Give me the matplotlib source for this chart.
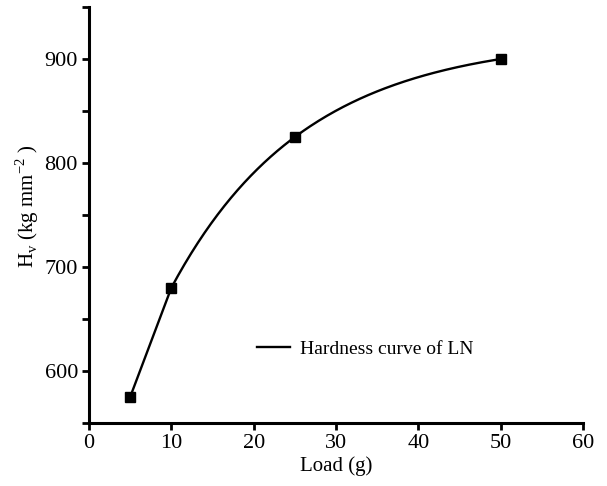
import numpy as np
from matplotlib import pyplot as plt
from matplotlib.ticker import MultipleLocator

# Hardness data
load = [5, 10, 25, 50]
hardness = [575, 680, 825, 900]

plt.rcParams['font.family'] = ['Liberation Serif', 'DejaVu Serif']
plt.rcParams['mathtext.fontset'] = 'custom'
plt.rcParams['mathtext.rm'] = 'Liberation Serif'

fig = plt.figure(figsize=(6.07, 4.86), dpi=100)
ax = fig.add_axes([0.1466, 0.1296, 0.814, 0.856])

# straight segment for the first two points, then a smooth saturating
# curve y = A - B*exp(-x/c) passing through the remaining three points
x1, x2, x3 = load[1:]
y1, y2, y3 = hardness[1:]
target = (y3 - y2) / (y2 - y1)
lo, hi = 1.0, 200.0
for _ in range(100):
    c = 0.5 * (lo + hi)
    e1, e2, e3 = np.exp(-x1 / c), np.exp(-x2 / c), np.exp(-x3 / c)
    if (e2 - e3) / (e1 - e2) > target:
        hi = c
    else:
        lo = c
B = (y2 - y1) / (e1 - e2)
A = y3 + B * e3
xs = np.linspace(x1, x3, 200)
curve_x = np.concatenate([[load[0]], xs])
curve_y = np.concatenate([[hardness[0]], A - B * np.exp(-xs / c)])

ax.plot(curve_x, curve_y, c='black', lw=1.7, label='Hardness curve of LN')
ax.plot(load, hardness, ls='none', marker='s', ms=6.5, c='black')

ax.set_xlim(0, 60)
ax.set_ylim(550, 950)
ax.xaxis.set_major_locator(MultipleLocator(10))
ax.yaxis.set_minor_locator(MultipleLocator(50))
ax.set_yticks([600, 700, 800, 900])

for side in ['top', 'right']:
    ax.spines[side].set_visible(False)
for side in ['left', 'bottom']:
    ax.spines[side].set_linewidth(2.2)

ax.tick_params(axis='both', which='both', direction='out', width=2, length=5,
               labelsize=16)
ax.tick_params(axis='x', pad=3)
ax.tick_params(axis='y', pad=3)

ax.set_xlabel('Load (g)', fontsize=15, labelpad=2)
ax.set_ylabel(r'H$_\mathrm{v}$ (kg mm$^{-2}$ )', fontsize=15)
ax.yaxis.set_label_coords(-0.097, 0.52)

ax.legend(loc='center left', bbox_to_anchor=(0.34, 0.178), frameon=False,
          fontsize=14, handlelength=1.7, handletextpad=0.5,
          borderaxespad=0, borderpad=0)

fig.savefig('out.png', dpi=100)
